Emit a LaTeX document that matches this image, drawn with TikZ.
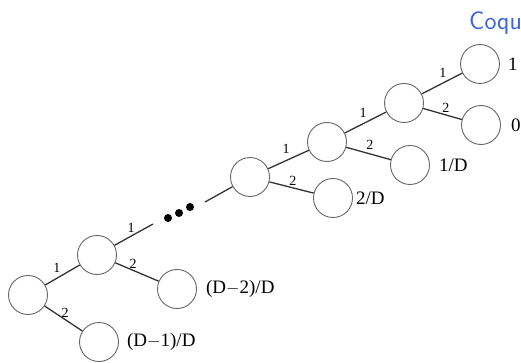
\documentclass[tikz,border=0pt]{standalone}
\usepackage{fontspec}
\setmainfont{Liberation Serif}
\definecolor{titleblue}{RGB}{60,100,225}
\begin{document}
\begin{tikzpicture}[x=1pt,y=-1pt,
  state/.style={circle, draw=black!60, line width=0.9pt, minimum size=39pt, inner sep=0pt},
  branch/.style={draw=black!80, line width=1.3pt},
  elab/.style={font=\fontsize{14}{14}\selectfont, inner sep=1.5pt},
  val/.style={font=\fontsize{19}{19}\selectfont, anchor=west, inner sep=0pt},
  bigdot/.style={circle, fill=black, minimum size=8pt, inner sep=0pt}]
\useasboundingbox (0,0) rectangle (521,363);

% heading fragment
\node[anchor=base west, inner sep=0pt, text=titleblue,
      font=\sffamily\fontsize{25.5}{25.5}\selectfont] (head) at (469,30) {Coqu};

% tree states
\node[state] (a)  at (28,295)  {};
\node[state] (a2) at (99,342)  {};
\node[state] (b)  at (97,255)  {};
\node[state] (b2) at (177,289) {};
\node[state] (c)  at (250,177) {};
\node[state] (c2) at (333,198) {};
\node[state] (d)  at (327,142) {};
\node[state] (d2) at (410,165) {};
\node[state] (e)  at (404,103) {};
\node[state] (e1) at (480,64)  {};
\node[state] (e2) at (481,125) {};

% elided part of the chain
\node[bigdot] (p1) at (168,218) {};
\node[bigdot] (p2) at (179,213) {};
\node[bigdot] (p3) at (190,207) {};
\coordinate (gapin)  at (153,224);
\coordinate (gapout) at (205,202);

% branches
\draw[branch] (a) -- node[elab, pos=0.34, above=4pt] (la1) {1} (b);
\draw[branch] (a) -- node[elab, pos=0.54, above] (la2) {2} (a2);
\draw[branch] (b) -- node[elab, pos=0.43, above=2pt] (lb1) {1} (gapin);
\draw[branch] (b) -- node[elab, pos=0.41, above] (lb2) {2} (b2);
\draw[branch] (gapout) -- (c);
\draw[branch] (c) -- node[elab, pos=0.44, above=5pt] (lc1) {1} (d);
\draw[branch] (c) -- node[elab, pos=0.53, above] (lc2) {2} (c2);
\draw[branch] (d) -- node[elab, pos=0.44, above=4pt] (ld1) {1} (e);
\draw[branch] (d) -- node[elab, pos=0.53, above=2pt] (ld2) {2} (d2);
\draw[branch] (e) -- node[elab, pos=0.52, above=3pt] (le1) {1} (e1);
\draw[branch] (e) -- node[elab, pos=0.59, above] (le2) {2} (e2);

% leaf values
\node[val] (v1)  at ([xshift=8pt]e1.east) {1};
\node[val] (v0)  at ([xshift=10pt]e2.east) {0};
\node[val] (vd1) at ([xshift=9pt]d2.east) {1/D};
\node[val] (vd2) at ([xshift=3pt]c2.east) {2/D};
\node[val] (vd3) at ([xshift=9pt]b2.east) {(D$-$2)/D};
\node[val] (vd4) at ([xshift=8pt]a2.east) {(D$-$1)/D};
\end{tikzpicture}
\end{document}
